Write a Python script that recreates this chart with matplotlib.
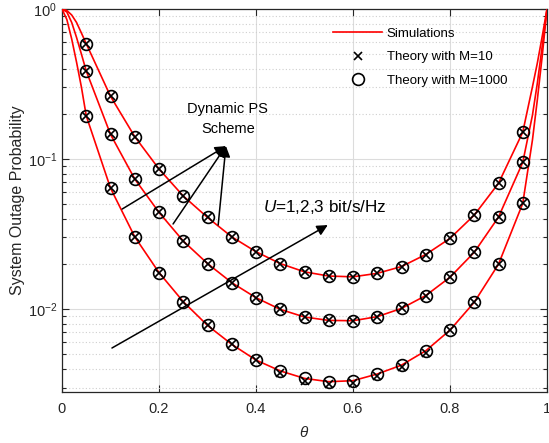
import matplotlib
matplotlib.use('Agg')
import matplotlib.pyplot as plt
from matplotlib.lines import Line2D
from matplotlib.ticker import LogLocator, NullFormatter

# power-splitting ratio where the theory is evaluated
theta_theory = [0.05, 0.10, 0.15, 0.20, 0.25, 0.30, 0.35, 0.40, 0.45, 0.50,
                0.55, 0.60, 0.65, 0.70, 0.75, 0.80, 0.85, 0.90, 0.95]

# theory, M = 1000 (U = 1, 2, 3 bit/s/Hz)
theory_u1 = [0.194, 0.064, 0.0303, 0.0175, 0.0112, 0.00778, 0.00582, 0.00457, 0.00387, 0.00345,
             0.00328, 0.00333, 0.00369, 0.00423, 0.00527, 0.00724, 0.0111, 0.0199, 0.0506]
theory_u2 = [0.386, 0.146, 0.0736, 0.0441, 0.0284, 0.0201, 0.0150, 0.0119, 0.00995, 0.00885,
             0.0084, 0.00836, 0.0089, 0.0101, 0.0123, 0.0163, 0.0239, 0.041, 0.095]
theory_u3 = [0.587, 0.262, 0.141, 0.0858, 0.0567, 0.0408, 0.0303, 0.0241, 0.0201, 0.0177,
             0.0166, 0.0164, 0.0173, 0.0192, 0.0231, 0.0296, 0.0423, 0.0689, 0.151]

# theory, M = 10 (only the lowest curve differs visibly)
theory10_u1 = [0.194, 0.064, 0.0303, 0.0175, 0.0112, 0.00778, 0.00582, 0.00457, 0.00375, 0.00333,
               0.00316, 0.0032, 0.00357, 0.0041, 0.0051, 0.00724, 0.0111, 0.0199, 0.0506]
theory10_u2 = theory_u2
theory10_u3 = theory_u3

# simulation grid (denser near the edges)
theta_sim = [0.0, 0.01, 0.02, 0.03, 0.04] + theta_theory + [0.97, 0.98, 0.99, 1.0]
sim_u1 = [1.0, 0.851, 0.631, 0.442, 0.302] + theory_u1 + [0.134, 0.247, 0.481, 1.0]
sim_u2 = [1.0, 0.955, 0.813, 0.646, 0.501] + theory_u2 + [0.196, 0.319, 0.561, 1.0]
sim_u3 = [1.0, 0.977, 0.912, 0.813, 0.692] + theory_u3 + [0.303, 0.435, 0.653, 1.0]

plt.rcParams['font.family'] = ['Liberation Sans', 'DejaVu Sans']
plt.rcParams['mathtext.fontset'] = 'custom'
plt.rcParams['mathtext.rm'] = 'Liberation Sans'
plt.rcParams['mathtext.it'] = 'Liberation Sans:italic'

axis_gray = '#262626'

fig = plt.figure(figsize=(5.49, 4.43), dpi=100)
ax = fig.add_axes([62 / 549, 1 - 392 / 443, 485 / 549, 383 / 443])

for sim in (sim_u1, sim_u2, sim_u3):
    ax.plot(theta_sim, sim, color='#ff0000', lw=1.2, zorder=3)
for th in (theory10_u1, theory10_u2, theory10_u3):
    ax.plot(theta_theory, th, ls='none', marker='x', ms=5.5, mew=1.2, color='black', zorder=4)
for th in (theory_u1, theory_u2, theory_u3):
    ax.plot(theta_theory, th, ls='none', marker='o', ms=8.5, mew=1.2,
            mfc='none', mec='black', zorder=4)

ax.set_yscale('log')
ax.set_xlim(0, 1)
ax.set_ylim(2.8e-3, 1)
ax.set_xticks([0, 0.2, 0.4, 0.6, 0.8, 1.0])
ax.set_xticklabels(['0', '0.2', '0.4', '0.6', '0.8', '1'])
ax.yaxis.set_major_locator(LogLocator(base=10, numticks=10))
ax.yaxis.set_minor_locator(LogLocator(base=10, subs=range(2, 10), numticks=20))
ax.yaxis.set_minor_formatter(NullFormatter())

ax.grid(True, which='major', color='#dcdcdc', lw=0.8, ls='-')
ax.grid(True, which='minor', axis='y', color='#cfcfcf', lw=0.8, ls=(0, (1, 2)))
ax.set_axisbelow(True)

ax.tick_params(which='both', direction='in', top=True, right=True,
               colors=axis_gray, labelsize=10.5, width=0.8)
ax.tick_params(which='major', length=5)
ax.tick_params(which='minor', length=3)
ax.tick_params(axis='x', pad=7.5)
for sp in ax.spines.values():
    sp.set_color(axis_gray)
    sp.set_linewidth(0.9)

ax.set_xlabel(r'$\theta$', fontsize=11, color=axis_gray, family='Liberation Serif',
              labelpad=6)
ax.set_ylabel('System Outage Probability', fontsize=11.5, color=axis_gray, labelpad=2)

# arrows pointing at the dynamic PS curves
head = dict(arrowstyle='-|>', color='black', lw=1.1, mutation_scale=16, shrinkA=0, shrinkB=0)
for start in [(0.124, 0.0464), (0.229, 0.0369), (0.322, 0.0363)]:
    ax.annotate('', xy=(0.338, 0.122), xytext=start, arrowprops=head)
ax.text(0.342, 0.185, 'Dynamic PS\nScheme', ha='center', va='center', fontsize=10.5,
        linespacing=1.5, color='black')

ax.annotate('', xy=(0.548, 0.0363), xytext=(0.103, 0.0055), arrowprops=head)
ax.text(0.414, 0.0479, r'$U$=1,2,3 bit/s/Hz', ha='left', va='center', fontsize=12.3,
        color='black')

handles = [
    Line2D([], [], color='#ff0000', lw=1.2),
    Line2D([], [], ls='none', marker='x', ms=5.5, mew=1.2, color='black'),
    Line2D([], [], ls='none', marker='o', ms=8.5, mew=1.2, mfc='none', mec='black'),
]
labels = ['Simulations', 'Theory with M=10', 'Theory with M=1000']
ax.legend(handles, labels, loc='upper left', bbox_to_anchor=(0.559, 0.952), frameon=False,
          fontsize=9.5, handlelength=3.7, handletextpad=0.35, labelspacing=0.86,
          borderpad=0, borderaxespad=0)

fig.savefig('out.png', dpi=100)
